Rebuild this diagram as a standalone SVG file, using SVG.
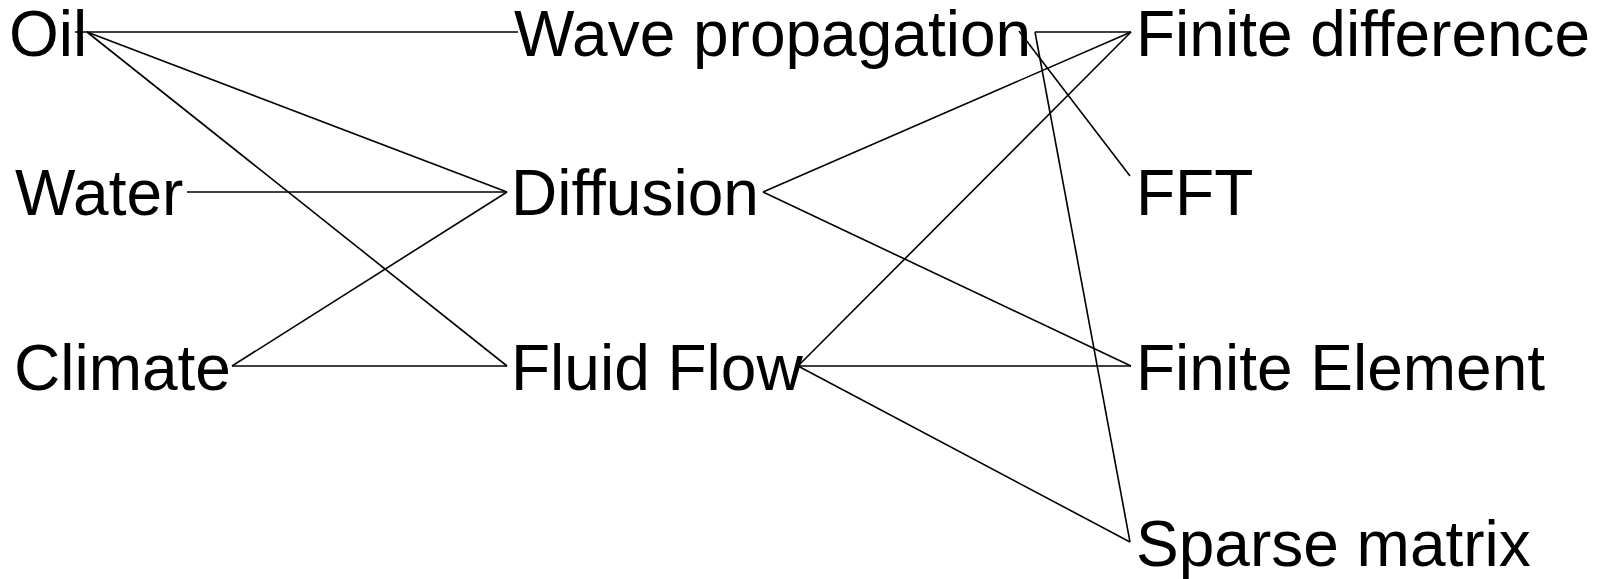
<svg xmlns="http://www.w3.org/2000/svg" width="1598" height="579" viewBox="0 0 1598 579">
<style>
text{font-family:"Liberation Sans",Arial,sans-serif;font-size:64px;fill:#000}
.e line{stroke:#000;stroke-width:1.6;fill:none}
</style>
<rect width="1598" height="579" fill="#fff"/>
<g id="connectors" class="e">
<line x1="75" y1="32" x2="518" y2="32"/>
<line x1="87" y1="32" x2="507" y2="192"/>
<line x1="87" y1="32" x2="507" y2="366"/>
<line x1="187" y1="192" x2="507" y2="192"/>
<line x1="232" y1="366" x2="507" y2="192"/>
<line x1="232" y1="366" x2="507" y2="366"/>
<line x1="1019" y1="31" x2="1130" y2="176"/>
<line x1="1035" y1="32" x2="1131" y2="32"/>
<line x1="1035" y1="32" x2="1130" y2="542"/>
<line x1="763" y1="192" x2="1131" y2="32"/>
<line x1="763" y1="192" x2="1131" y2="366"/>
<line x1="798" y1="366" x2="1131" y2="32"/>
<line x1="798" y1="366" x2="1131" y2="366"/>
<line x1="798" y1="366" x2="1130" y2="542"/>
</g>
<g id="n-oil"><text x="9" y="56">Oil</text></g>
<g id="n-water"><text x="15" y="215">Water</text></g>
<g id="n-climate"><text x="14" y="390">Climate</text></g>
<g id="n-wave"><text x="514" y="56">Wave propagation</text></g>
<g id="n-diffusion"><text x="511" y="215">Diffusion</text></g>
<g id="n-fluid"><text x="511" y="390">Fluid Flow</text></g>
<g id="n-fd"><text x="1136" y="56">Finite difference</text></g>
<g id="n-fft"><text x="1136" y="215">FFT</text></g>
<g id="n-fe"><text x="1136" y="390">Finite Element</text></g>
<g id="n-sparse"><text x="1136" y="566">Sparse matrix</text></g>
</svg>
